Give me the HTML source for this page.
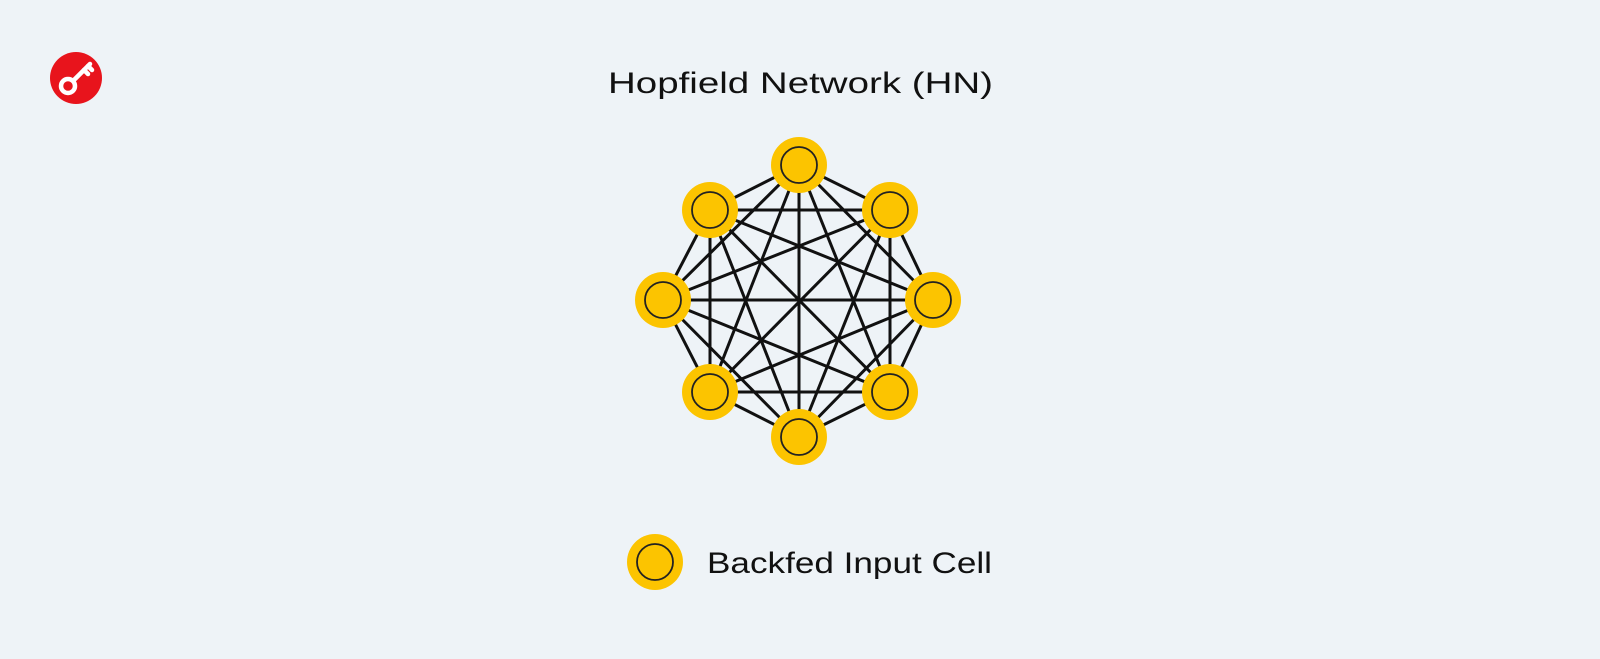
<!DOCTYPE html>
<html><head><meta charset="utf-8"><style>
html,body{margin:0;padding:0;background:#eef3f7;}
svg{display:block;}
text{font-family:"Liberation Sans",sans-serif;fill:#111;}
</style></head><body>
<svg width="1600" height="659" viewBox="0 0 1600 659" xmlns="http://www.w3.org/2000/svg">
<rect width="1600" height="659" fill="#eef3f7"/>
<circle cx="76" cy="78" r="26" fill="#e8141c"/>
<g stroke="#fff" fill="none" stroke-width="4.5" stroke-linecap="round">
<circle cx="68" cy="86" r="7"/>
<line x1="73" y1="81" x2="90" y2="64"/>
<line x1="84" y1="70" x2="88" y2="74"/>
<line x1="88" y1="66" x2="92" y2="70"/>
</g>
<text x="608" y="93" font-size="30" textLength="385" lengthAdjust="spacingAndGlyphs">Hopfield Network (HN)</text>
<g stroke="#111" stroke-width="3" id="edges"></g>
<g id="nodes"></g>
<circle cx="655" cy="562" r="28" fill="#fcc400"/>
<circle cx="655" cy="562" r="18" fill="#fcc400" stroke="#222" stroke-width="1.8"/>
<text x="707" y="573" font-size="30" textLength="285" lengthAdjust="spacingAndGlyphs">Backfed Input Cell</text>
<script>
var P=[[799,165],[890,210],[933,300],[890,392],[799,437],[710,392],[663,300],[710,210]];
var ns="http://www.w3.org/2000/svg",e=document.getElementById("edges"),n=document.getElementById("nodes");
for(var i=0;i<8;i++)for(var j=i+1;j<8;j++){var l=document.createElementNS(ns,"line");l.setAttribute("x1",P[i][0]);l.setAttribute("y1",P[i][1]);l.setAttribute("x2",P[j][0]);l.setAttribute("y2",P[j][1]);e.appendChild(l);}
for(var i=0;i<8;i++){var c=document.createElementNS(ns,"circle");c.setAttribute("cx",P[i][0]);c.setAttribute("cy",P[i][1]);c.setAttribute("r",28);c.setAttribute("fill","#fcc400");n.appendChild(c);
var d=document.createElementNS(ns,"circle");d.setAttribute("cx",P[i][0]);d.setAttribute("cy",P[i][1]);d.setAttribute("r",18);d.setAttribute("fill","#fcc400");d.setAttribute("stroke","#222");d.setAttribute("stroke-width","1.8");n.appendChild(d);}
</script>
</svg>
</body></html>
